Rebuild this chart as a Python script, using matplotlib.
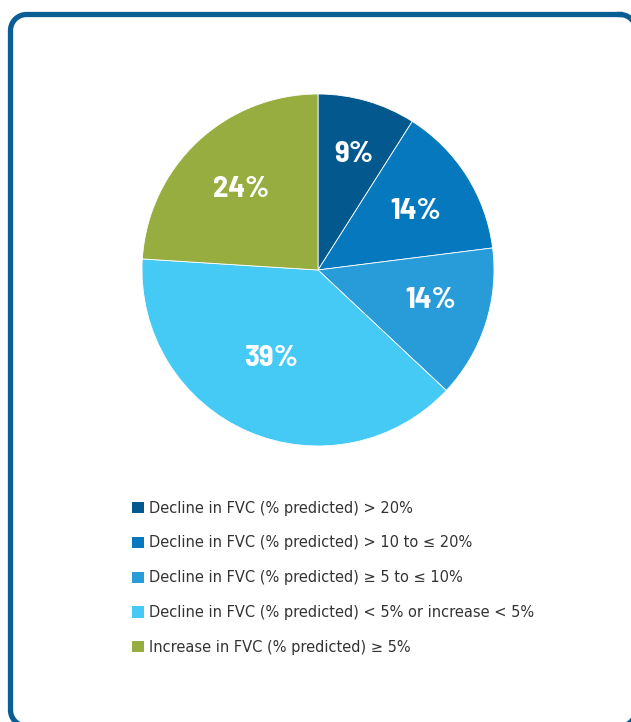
import matplotlib
matplotlib.use("Agg")
import matplotlib.pyplot as plt
from matplotlib.lines import Line2D
from matplotlib import font_manager
import numpy as np

# ---- data ----
categories = [
    "Decline in FVC (% predicted) > 20%",
    "Decline in FVC (% predicted) > 10 to \u2264 20%",
    "Decline in FVC (% predicted) \u2265 5 to \u2264 10%",
    "Decline in FVC (% predicted) < 5% or increase < 5%",
    "Increase in FVC (% predicted) \u2265 5%",
]
values = [9, 14, 14, 39, 24]
pct_labels = ["9%", "14%", "14%", "39%", "24%"]
colors = ["#03598d", "#0678bd", "#289cd8", "#45c9f5", "#97ad40"]

names = {f.name for f in font_manager.fontManager.ttflist}
def pick(*fams):
    for f in fams:
        if f in names:
            return f
    return "DejaVu Sans"
label_family = pick("Barlow Semi Condensed", "Barlow Condensed", "Fira Sans Condensed", "Asap Condensed")
legend_family = "DejaVu Sans"

W, H = 631, 722
fig = plt.figure(figsize=(W / 100, H / 100), dpi=100)
fig.patch.set_facecolor("white")

bg = fig.add_axes([0, 0, 1, 1])
bg.set_xlim(0, W)
bg.set_ylim(H, 0)
bg.axis("off")

def rounded_rect(x0, y0, x1, y1, rad, n=30):
    pts = []
    corners = [(x1 - rad, y0 + rad, -90, 0), (x1 - rad, y1 - rad, 0, 90),
               (x0 + rad, y1 - rad, 90, 180), (x0 + rad, y0 + rad, 180, 270)]
    for cxr, cyr, a0, a1 in corners:
        t = np.deg2rad(np.linspace(a0, a1, n))
        pts.append(np.column_stack([cxr + rad * np.cos(t), cyr + rad * np.sin(t)]))
    pts = np.vstack(pts + [pts[0][:1]])
    return pts[:, 0], pts[:, 1]

fx, fy = rounded_rect(10.5, 14.5, 636, 726, 16)
bg.add_line(Line2D(fx, fy, linewidth=3.8, color="#0a5e93", solid_joinstyle="round"))

cx, cy, r = 318, 270, 176
ax = fig.add_axes([(cx - r) / W, (H - cy - r) / H, 2 * r / W, 2 * r / H])
wedges, _ = ax.pie(values, colors=colors, startangle=90, counterclock=False,
                   radius=1, wedgeprops=dict(linewidth=0.6, edgecolor="white"))
ax.set_xlim(-1, 1)
ax.set_ylim(-1, 1)
ax.set_aspect("equal")
ax.axis("off")

label_r = [0.70, 0.65, 0.65, 0.56, 0.65]
label_shift = [0, 0, 4, -6, 0]
dy = -3.0 / r
for w, t, lr, sh in zip(wedges, pct_labels, label_r, label_shift):
    ang = np.deg2rad((w.theta1 + w.theta2) / 2 + sh)
    ax.text(lr * np.cos(ang) + 1.5 / r, lr * np.sin(ang) + dy, t, ha="center", va="center",
            color="white", fontsize=22, fontweight="bold", family=label_family)

leg = fig.legend(wedges, categories, loc="upper left",
                 bbox_to_anchor=(119 / W, 1 - 487.5 / H), frameon=False,
                 handlelength=0.8, handleheight=0.8, handletextpad=0.35,
                 labelspacing=1.36, prop=dict(family=legend_family, size=10.5),
                 labelcolor="#333333")
for h in leg.legend_handles:
    h.set_linewidth(0)

fig.savefig("out.png", dpi=100)
